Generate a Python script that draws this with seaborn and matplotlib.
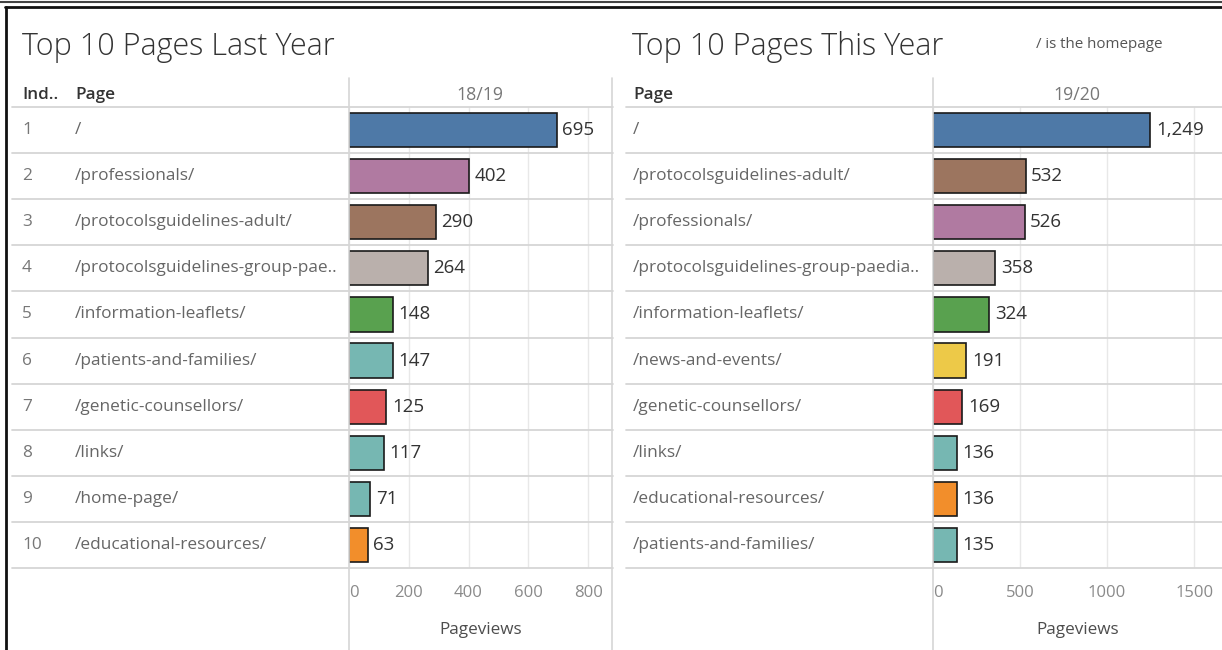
import matplotlib
matplotlib.use("Agg")
import matplotlib.pyplot as plt
import matplotlib.transforms as mtransforms
from matplotlib.lines import Line2D
import seaborn as sns
import pandas as pd

# ---------------- data ----------------
left_index = [1, 2, 3, 4, 5, 6, 7, 8, 9, 10]
left_pages = ["/", "/professionals/", "/protocolsguidelines-adult/",
              "/protocolsguidelines-group-pae..", "/information-leaflets/",
              "/patients-and-families/", "/genetic-counsellors/", "/links/",
              "/home-page/", "/educational-resources/"]
left_values = [695, 402, 290, 264, 148, 147, 125, 117, 71, 63]

right_pages = ["/", "/protocolsguidelines-adult/", "/professionals/",
               "/protocolsguidelines-group-paedia..", "/information-leaflets/",
               "/news-and-events/", "/genetic-counsellors/", "/links/",
               "/educational-resources/", "/patients-and-families/"]
right_values = [1249, 532, 526, 358, 324, 191, 169, 136, 136, 135]

left_ticks = [0, 200, 400, 600, 800]
right_ticks = [0, 500, 1000, 1500]

page_colors = {
    "/": "#4E79A7",
    "/professionals/": "#B07AA1",
    "/protocolsguidelines-adult/": "#9C755F",
    "/protocolsguidelines-group-pae..": "#BAB0AC",
    "/protocolsguidelines-group-paedia..": "#BAB0AC",
    "/information-leaflets/": "#59A14F",
    "/patients-and-families/": "#76B7B2",
    "/genetic-counsellors/": "#E15759",
    "/links/": "#76B7B2",
    "/home-page/": "#76B7B2",
    "/educational-resources/": "#F28E2B",
    "/news-and-events/": "#EDC948",
}

# ---------------- style ----------------
sns.set_theme(style="white")
plt.rcParams["font.family"] = ["Open Sans", "DejaVu Sans"]

W, H = 1222, 650
fig = plt.figure(figsize=(W / 100, H / 100), dpi=100)
fig.patch.set_facecolor("white")


def fx(x):
    return x / W


def fy(y):
    return 1 - y / H


ROW_TOP, ROW_BOT = 107, 568
GRID = "#e8e8e8"
SEP = "#d6d6d6"
ROW_FS = 12.4


def panel(x0, x1, pages, values, xmax, ticks, text_x, index=None, index_x=None):
    ax = fig.add_axes([fx(x0), fy(ROW_BOT), fx(x1) - fx(x0), (ROW_BOT - ROW_TOP) / H])
    df = pd.DataFrame({"page": pages, "views": values})
    sns.barplot(data=df, x="views", y="page", hue="page", order=pages,
                palette=page_colors, legend=False, width=0.74,
                edgecolor="#1a1a1a", linewidth=1.2, ax=ax, saturation=1)
    ax.set_xlim(0, xmax)
    ax.set_ylim(len(pages) - 0.5, -0.5)
    ax.set_xticks(ticks)
    ax.set_xticklabels([str(t) for t in ticks])
    ax.tick_params(axis="x", length=0, pad=12, labelsize=12, labelcolor="#8a8a8a")
    ax.get_xticklabels()[0].set_horizontalalignment("left")
    ax.set_yticks([])
    ax.set_ylabel("")
    ax.set_xlabel("Pageviews", fontsize=12.3, color="#4d4d4d", labelpad=15)
    for s in ax.spines.values():
        s.set_visible(False)
    ax.grid(axis="x", color=GRID, linewidth=1)
    ax.set_axisbelow(True)
    ax.patch.set_alpha(0)
    for cont in ax.containers:
        ax.bar_label(cont, labels=[f"{v:,.0f}" for v in cont.datavalues],
                     padding=4, fontsize=13.5, color="#333333")

    tr = mtransforms.blended_transform_factory(fig.transFigure, ax.transData)
    for i, p in enumerate(pages):
        fig.text(fx(text_x), i, p, transform=tr, va="center", ha="left",
                 fontsize=ROW_FS, color="#666666")
        if index is not None:
            fig.text(fx(index_x), i, str(index[i]), transform=tr, va="center",
                     ha="left", fontsize=ROW_FS, color="#777777")
    return ax, tr


axL, trL = panel(349, 612, left_pages, left_values, 880, left_ticks, 75,
                 index=left_index, index_x=22)
axR, trR = panel(933, 1222, right_pages, right_values, 1660, right_ticks, 633)

# row separator lines
for tr, xa, xb in [(trL, 12, 613), (trR, 626, 1222)]:
    for b in range(11):
        fig.add_artist(Line2D([fx(xa), fx(xb)], [b - 0.5, b - 0.5], transform=tr,
                              color=SEP, linewidth=1.3))

# vertical separators
for x in [348.5, 612.5, 932.5]:
    fig.add_artist(Line2D([fx(x), fx(x)], [fy(78), fy(650)], transform=fig.transFigure,
                          color=SEP, linewidth=1.2))

# headers
HFS = 12.3
fig.text(fx(22), fy(95), "Ind..", fontsize=HFS, color="#333333", va="center",
         ha="left", fontweight="semibold")
fig.text(fx(75), fy(95), "Page", fontsize=HFS, color="#333333", va="center",
         ha="left", fontweight="semibold")
fig.text(fx(633), fy(95), "Page", fontsize=HFS, color="#333333", va="center",
         ha="left", fontweight="semibold")
fig.text(fx(480), fy(95), "18/19", fontsize=12.8, color="#777777", va="center", ha="center")
fig.text(fx(1077), fy(95), "19/20", fontsize=12.8, color="#777777", va="center", ha="center")

# titles
fig.text(fx(22), fy(47), "Top 10 Pages Last Year", fontsize=22, color="#333333",
         va="center", ha="left", fontweight="light")
fig.text(fx(632), fy(47), "Top 10 Pages This Year", fontsize=22, color="#333333",
         va="center", ha="left", fontweight="light")
fig.text(fx(1036), fy(45), "/ is the homepage", fontsize=10.9, color="#555555",
         va="center", ha="left")

# outer frame
fig.add_artist(Line2D([0, 1], [fy(1.5), fy(1.5)], transform=fig.transFigure,
                      color="#444444", linewidth=1.5))
fig.add_artist(Line2D([fx(5), 1], [fy(7), fy(7)], transform=fig.transFigure,
                      color="#111111", linewidth=2))
fig.add_artist(Line2D([fx(6), fx(6)], [fy(7), 0], transform=fig.transFigure,
                      color="#111111", linewidth=2))

fig.savefig("out.png", dpi=100, facecolor="white")
